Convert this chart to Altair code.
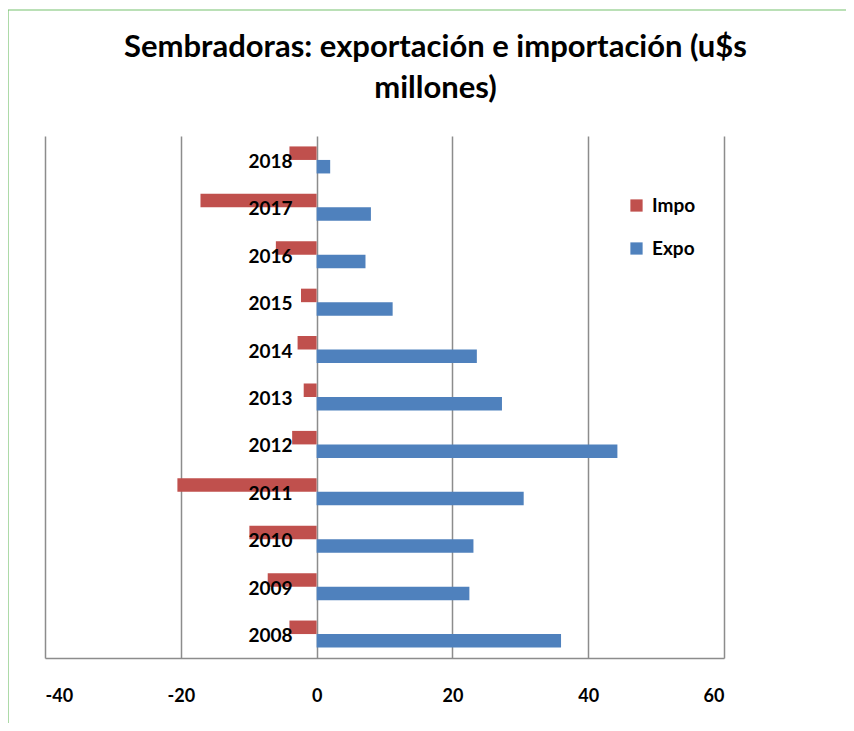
import altair as alt
import pandas as pd

years = ["2008", "2009", "2010", "2011", "2012", "2013", "2014", "2015", "2016", "2017", "2018"]
expo = [36.0, 22.5, 23.1, 30.5, 44.3, 27.3, 23.6, 11.2, 7.2, 8.0, 2.0]
impo = [-4.0, -7.2, -9.9, -20.5, -3.6, -1.9, -2.8, -2.3, -6.0, -17.1, -4.0]
series = ["Impo", "Expo"]
colors = ["#C0504D", "#4F81BD"]
x_ticks = [-40, -20, 0, 20, 40, 60]

rows = []
for y, i, e in zip(years, impo, expo):
    rows.append({"year": y, "serie": "Impo", "value": i})
    rows.append({"year": y, "serie": "Expo", "value": e})
df = pd.DataFrame(rows)
labels_df = pd.DataFrame({"year": years, "zero": [0] * len(years)})

FONT = "Lato"
year_order = list(reversed(years))

yscale = alt.Scale(domain=year_order, paddingInner=0.43, paddingOuter=0.22)

bars = alt.Chart(df).mark_bar().encode(
    x=alt.X("value:Q", scale=alt.Scale(domain=[-40, 60], nice=False),
            axis=alt.Axis(values=x_ticks, title=None, grid=True, gridColor="#8C8C8C",
                          gridWidth=1.5, domainColor="#8C8C8C", domainWidth=1.5,
                          ticks=False, labelPadding=29, labelFont=FONT, labelFontSize=18,
                          labelFontWeight="bold", labelColor="#000000",
                          labelExpr="'' + datum.value")),
    y=alt.Y("year:N", scale=yscale, axis=None),
    yOffset=alt.YOffset("serie:N", sort=series, scale=alt.Scale(domain=series, paddingInner=0, paddingOuter=0)),
    color=alt.Color("serie:N", scale=alt.Scale(domain=series, range=colors),
                    legend=alt.Legend(title=None, orient="none", legendX=582, legendY=60,
                                      symbolType="square", symbolSize=150, symbolStrokeWidth=0,
                                      rowPadding=23, labelFont=FONT, labelFontSize=19,
                                      labelFontWeight="bold", labelColor="#000000",
                                      labelOffset=6)),
)

texts = alt.Chart(labels_df).mark_text(
    align="right", baseline="middle", dx=-24, dy=2, font=FONT, fontSize=19,
    fontWeight="bold", color="#000000"
).encode(
    x=alt.X("zero:Q"),
    y=alt.Y("year:N", scale=yscale, axis=None),
    text=alt.Text("year:N"),
)

border = alt.Chart(labels_df.head(1)).mark_rect(
    fill=None, stroke="#77C16F", strokeWidth=1.2
).encode(
    x=alt.value(-37), x2=alt.value(900), y=alt.value(-126), y2=alt.value(700)
)

chart = alt.layer(border, bars, texts).properties(
    width=679, height=522,
    padding={"left": 37, "top": 128, "right": 122, "bottom": 65},
    autosize=alt.AutoSizeParams(type="none"),
    title=alt.TitleParams(
        text=["Sembradoras: exportación e importación (u$s", "millones)"],
        font=FONT, fontSize=31, fontWeight="bold", color="#000000",
        anchor="middle", frame="group", dx=51, offset=0, dy=96, lineHeight=41,
    ),
).configure_view(stroke=None).configure_axisY(grid=False)

chart.save("out.html", embed_options={"renderer": "svg", "actions": False})
